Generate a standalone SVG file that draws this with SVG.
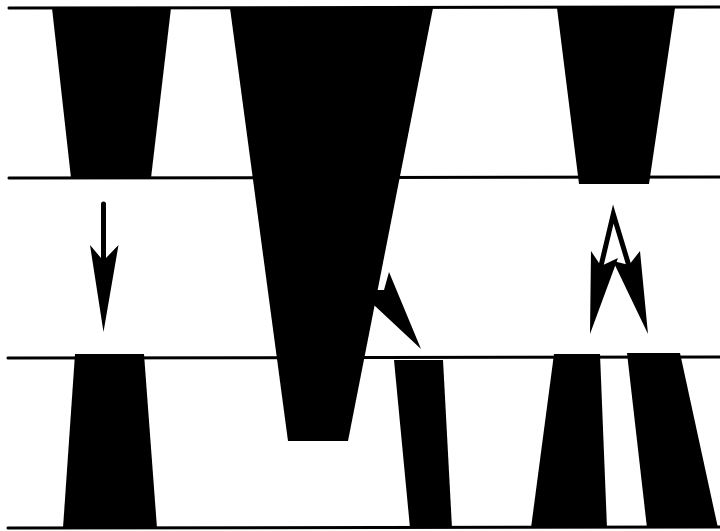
<svg xmlns="http://www.w3.org/2000/svg" width="720" height="531" viewBox="0 0 720 531">
<style>
.bg{fill:#fff}
.rule{stroke:#000;stroke-width:3;fill:none;stroke-linecap:round}
.blk{fill:#000}
.shaft{stroke:#000;stroke-width:5;fill:none;stroke-linecap:round;stroke-linejoin:miter;stroke-miterlimit:10}
</style>
<rect class="bg" x="0" y="0" width="720" height="531"/>
<g id="rules">
<line class="rule" x1="9" y1="8" x2="720" y2="7"/>
<line class="rule" x1="9" y1="178" x2="720" y2="177"/>
<line class="rule" x1="8" y1="358" x2="720" y2="357"/>
<line class="rule" x1="8" y1="528" x2="720" y2="527"/>
</g>
<g id="connectors">
<path class="shaft" d="M103.5,204 L103.5,259"/>
<polygon class="blk" points="103.5,332 90,245 101,258 106,258 118.5,245"/>
<polygon class="blk" points="421,349 389,272 384,290 372,290 372,303 375,306"/>
<path class="shaft" d="M600.5,268 L613.3,214 L629,266"/>
<polygon class="blk" points="590,334 591,251 601,266 618,258"/>
<polygon class="blk" points="648,334 640,251 629,265 613,261"/>
</g>
<g id="shape-a"><polygon class="blk" points="52,8 171,8 151,178 71,178"/></g>
<g id="shape-b"><polygon class="blk" points="230,8 433,8 348,441 288,441"/></g>
<g id="shape-c"><polygon class="blk" points="557,8 675,8 649,184 579,184"/></g>
<g id="shape-d"><polygon class="blk" points="75,354 144,354 157,528 63,528"/></g>
<g id="shape-f"><polygon class="blk" points="394,360 443,360 452,528 410,528"/></g>
<g id="shape-g"><polygon class="blk" points="554,354 600,354 607,528 531,528"/></g>
<g id="shape-h"><polygon class="blk" points="627,353 680,353 718,528 647,528"/></g>
</svg>
